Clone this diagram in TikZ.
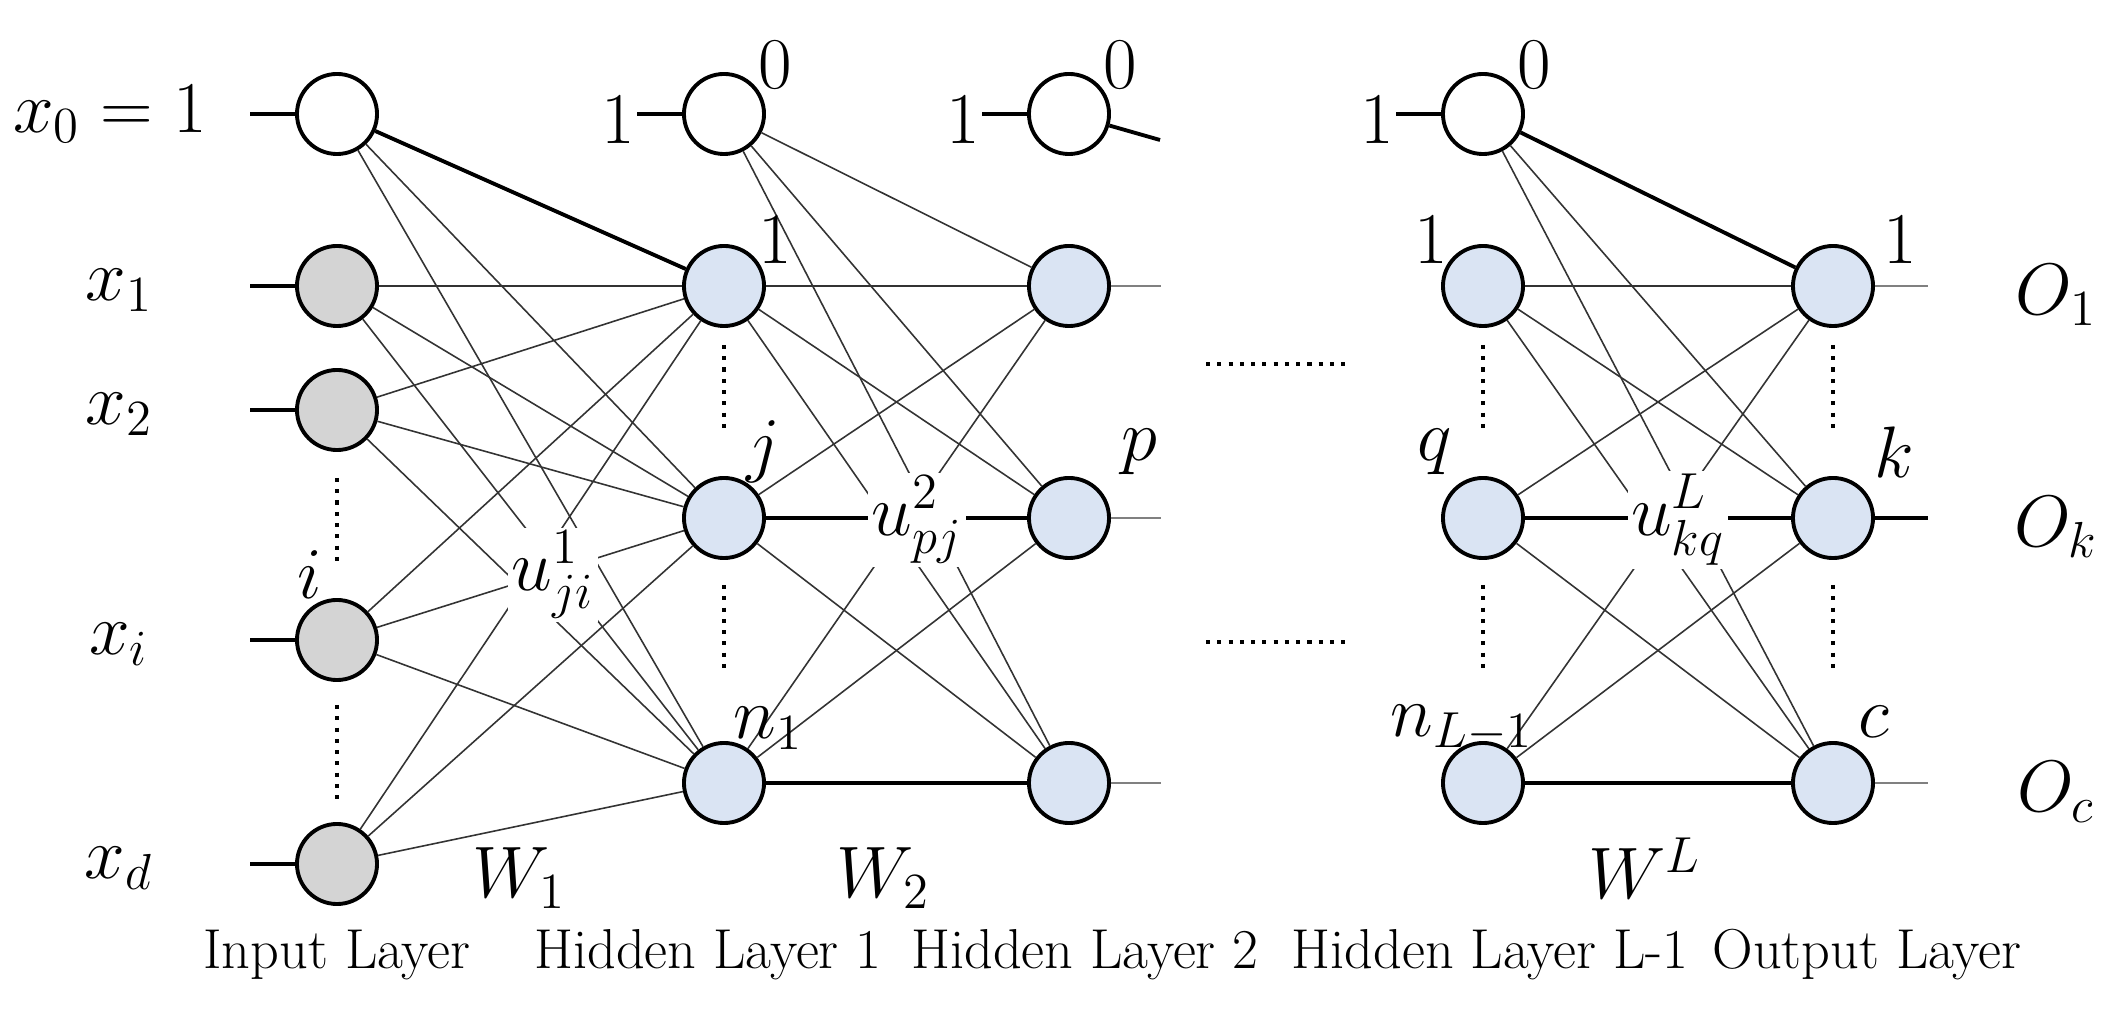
\documentclass[tikz,border=0pt]{standalone}
\usepackage{amsmath}
\definecolor{hb}{HTML}{DAE4F3}
\begin{document}
\begin{tikzpicture}[x=0.01cm,y=-0.01cm,
  neu/.style={circle,draw=black,line width=1.1pt,minimum size=0.8cm,inner sep=0pt},
  bias/.style={neu,fill=white},
  inp/.style={neu,fill=black!17},
  hid/.style={neu,fill=hb},
  w/.style={line width=0.45pt,black!80},
  wt/.style={line width=1.1pt},
  stub/.style={line width=1.1pt},
  gstub/.style={line width=0.8pt,black!50},
  dots/.style={line width=1.2pt,dotted},
  lab/.style={font=\fontsize{20}{22}\selectfont},
  lay/.style={font=\fontsize{16}{18}\selectfont}]
\useasboundingbox (0,0) rectangle (2114,1019);
% input layer
\node[bias] (a0) at (337,114) {};
\node[inp] (a1) at (337,286) {};
\node[inp] (a2) at (337,410) {};
\node[inp] (ai) at (337,640) {};
\node[inp] (ad) at (337,864) {};
% hidden 1
\node[bias] (b0) at (724,114) {};
\node[hid] (b1) at (724,286) {};
\node[hid] (bj) at (724,518) {};
\node[hid] (bn) at (724,783) {};
% hidden 2
\node[bias] (c0) at (1069,114) {};
\node[hid] (c1) at (1069,286) {};
\node[hid] (cp) at (1069,518) {};
\node[hid] (cn) at (1069,783) {};
% hidden L-1
\node[bias] (d0) at (1483,114) {};
\node[hid] (d1) at (1483,286) {};
\node[hid] (dq) at (1483,518) {};
\node[hid] (dn) at (1483,783) {};
% output
\node[hid] (e1) at (1833,286) {};
\node[hid] (ek) at (1833,518) {};
\node[hid] (ec) at (1833,783) {};
% edges
\foreach \s in {a0,a1,a2,ai,ad}{\foreach \t in {b1,bj,bn}{\draw[w] (\s) -- (\t);}}
\foreach \s in {b0,b1,bj,bn}{\foreach \t in {c1,cp,cn}{\draw[w] (\s) -- (\t);}}
\foreach \s in {d0,d1,dq,dn}{\foreach \t in {e1,ek,ec}{\draw[w] (\s) -- (\t);}}
\draw[wt] (a0) -- (b1);
\draw[wt] (d0) -- (e1);
\draw[wt] (bj) -- (cp); \draw[wt] (bn) -- (cn);
\draw[wt] (dq) -- (ek); \draw[wt] (dn) -- (ec);
% stubs
\foreach \n in {a0,a1,a2,ai,ad,b0,c0,d0}{\coordinate (s\n) at ([xshift=-0.45cm]\n.west); \draw[stub] (s\n) -- (\n.west);}
\coordinate (cx) at (1160,140); \draw[stub] (c0) -- (cx);
\foreach \n in {c1,cp,cn}{\coordinate (t\n) at ([xshift=0.5cm]\n.east); \draw[gstub] (\n.east) -- (t\n);}
\coordinate (te1) at (1928,286); \draw[gstub] (e1.east) -- (te1);
\coordinate (tek) at (1928,518); \draw[stub] (ek.east) -- (tek);
\coordinate (tec) at (1928,783); \draw[gstub] (ec.east) -- (tec);
% dotted
\coordinate (v1) at (337,478); \coordinate (v2) at (337,566); \draw[dots] (v1) -- (v2);
\coordinate (v3) at (337,705); \coordinate (v4) at (337,803); \draw[dots] (v3) -- (v4);
\foreach \xx in {724,1483,1833}{
 \coordinate (p1\xx) at (\xx,345); \coordinate (p2\xx) at (\xx,432); \draw[dots] (p1\xx) -- (p2\xx);
 \coordinate (p3\xx) at (\xx,585); \coordinate (p4\xx) at (\xx,673); \draw[dots] (p3\xx) -- (p4\xx);}
\coordinate (h1) at (1206,364); \coordinate (h2) at (1348,364); \draw[dots] (h1) -- (h2);
\coordinate (h3) at (1206,642); \coordinate (h4) at (1348,642); \draw[dots] (h3) -- (h4);
% labels
\node[lab] (lx0) at (110,114) {$x_0 = 1$};
\node[lab] (lx1) at (119,290) {$x_1$};
\node[lab] (lx2) at (119,414) {$x_2$};
\node[lab] (lxi) at (119,644) {$x_i$};
\node[lab] (lxd) at (119,868) {$x_d$};
\node[lab] (li) at (310,575) {$i$};
\foreach \n/\xx in {b0/618,c0/963,d0/1377}{\node[lab] (one\n) at (\xx,120) {$1$};}
\foreach \xx in {775,1120,1534}{\node[lab] at (\xx,65) {$0$};}
\node[lab] at (775,240) {$1$};
\node[lab] at (763,452) {$j$};
\node[lab] at (768,728) {$n_1$};
\node[lab] at (1139,452) {$p$};
\node[lab] at (1431,240) {$1$};
\node[lab] at (1435,452) {$q$};
\node[lab] at (1462,728) {$n_{L-1}$};
\node[lab] at (1900,240) {$1$};
\node[lab] at (1894,452) {$k$};
\node[lab] at (1874,722) {$c$};
\node[lab] at (2056,295) {$O_1$};
\node[lab] at (2056,527) {$O_k$};
\node[lab] at (2056,792) {$O_c$};
\node[lab,fill=white,inner sep=1pt] at (553,575) {$u_{ji}^1$};
\node[lab,fill=white,inner sep=1pt] at (917,520) {$u_{pj}^2$};
\node[lab,fill=white,inner sep=1pt] at (1678,520) {$u_{kq}^L$};
\node[lab] at (519,878) {$W_1$};
\node[lab] at (883,878) {$W_2$};
\node[lab] at (1645,868) {$W^L$};
\node[lay] at (337,955) {Input Layer};
\node[lay] at (708,955) {Hidden Layer 1};
\node[lay] at (1085,955) {Hidden Layer 2};
\node[lay] at (1490,955) {Hidden Layer L-1};
\node[lay] at (1867,955) {Output Layer};
\end{tikzpicture}
\end{document}
